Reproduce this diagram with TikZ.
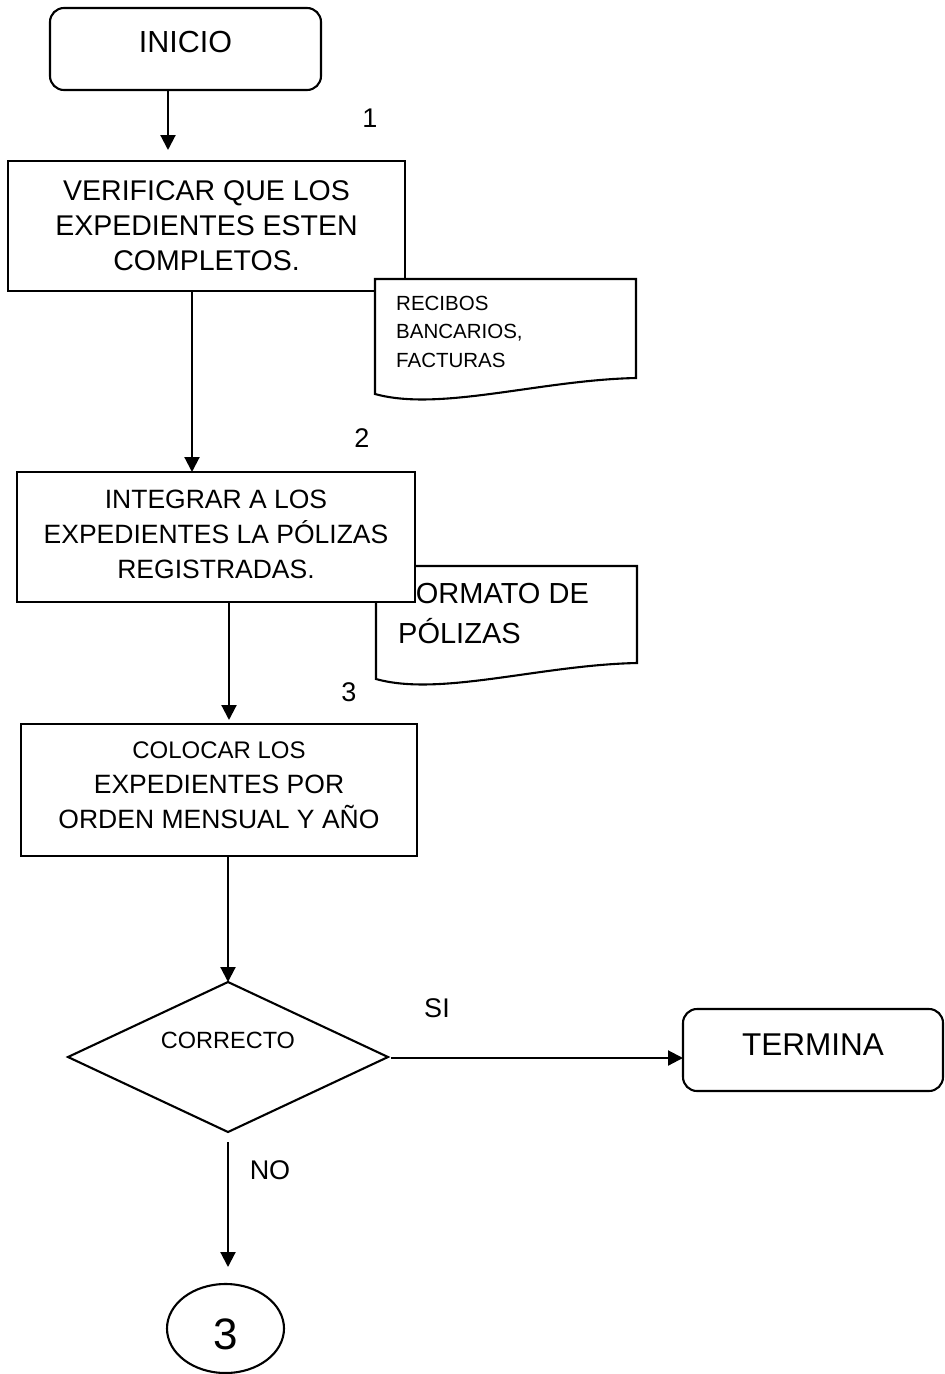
\documentclass[tikz,border=0pt]{standalone}
\usepackage{fontspec}
\setmainfont{Liberation Sans}
\usetikzlibrary{shapes.geometric,arrows.meta}
\tikzset{
  shp/.style={draw, line width=2.1pt, inner sep=0pt, outer sep=0pt, fill=white, align=center},
  procbox/.style={shp, rectangle},
  termbox/.style={shp, rectangle, rounded corners=14pt},
  arr/.style={line width=2.1pt, -{Triangle[length=15pt,width=15pt]}},
  lbl/.style={inner sep=0pt, font=\fontsize{27pt}{30pt}\selectfont},
  doctext/.style={inner sep=0pt, anchor=north west, align=left},
  docshape/.style={line width=2.1pt, fill=white},
}
\begin{document}
\begin{tikzpicture}[x=1pt,y=-1pt]
\useasboundingbox (0,0) rectangle (945,1374);

% start
\node[termbox, minimum width=271pt, minimum height=82pt,
      font=\fontsize{30.5pt}{36pt}\selectfont, text height=21.8pt, text depth=15.8pt]
      (inicio) at (185.5,49) {INICIO};

% step 1
\node[procbox, minimum width=397pt, minimum height=130pt,
      font=\fontsize{28.5pt}{35pt}\selectfont, text height=90.4pt, text depth=2.4pt]
      (box1) at (206.5,226) {VERIFICAR QUE LOS\\EXPEDIENTES ESTEN\\COMPLETOS.};

% document 1 (on top of box 1)
\draw[docshape] (375,279) -- (636,279) -- (636,378)
  .. controls (540,380) and (440,412) .. (375,394) -- cycle;
\node[doctext, font=\fontsize{20.5pt}{28.5pt}\selectfont, text height=71.7pt]
  (doc1) at (396,295.3) {RECIBOS\\BANCARIOS,\\FACTURAS};

% document 2 (under box 2)
\draw[docshape] (376,566) -- (637,566) -- (637,663)
  .. controls (540,665) and (440,697) .. (376,679) -- cycle;
\node[doctext, font=\fontsize{29pt}{40pt}\selectfont, text height=60.8pt]
  (doc2) at (398,582.2) {FORMATO DE\\PÓLIZAS};

% step 2
\node[procbox, minimum width=398pt, minimum height=130pt,
      font=\fontsize{26.5pt}{35pt}\selectfont, text height=89pt, text depth=7pt]
      (box2) at (216,537) {INTEGRAR A LOS\\EXPEDIENTES LA PÓLIZAS\\REGISTRADAS.};

% step 3
\node[procbox, minimum width=396pt, minimum height=132pt,
      font=\fontsize{26.5pt}{35pt}\selectfont, text height=87.2pt, text depth=11.2pt]
      (box3) at (219,790) {{\fontsize{24pt}{35pt}\selectfont COLOCAR LOS}\\EXPEDIENTES POR\\ORDEN MENSUAL Y AÑO};

% decision
\node[shp, diamond, aspect=2.133, minimum width=320pt, minimum height=150pt,
      font=\fontsize{23.5pt}{28pt}\selectfont, text height=16.8pt, text depth=34.8pt]
      (diam) at (228,1057) {CORRECTO};

% end
\node[termbox, minimum width=260pt, minimum height=82pt,
      font=\fontsize{31.5pt}{36pt}\selectfont, text height=22.5pt, text depth=12.5pt]
      (term) at (813,1050) {TERMINA};

% connector
\node[shp, ellipse, minimum width=117pt, minimum height=89pt,
      font=\fontsize{44pt}{50pt}\selectfont, text height=42pt, text depth=0pt]
      (ell) at (225.5,1328.5) {3};

% labels
\node[lbl] (n1) at (370,118) {1};
\node[lbl] (n2) at (362,438) {2};
\node[lbl] (n3) at (349,692) {3};
\node[lbl] (si) at (437,1008) {SI};
\node[lbl] (no) at (270,1170) {NO};

% connectors
\draw[arr] ([xshift=-17.5pt]inicio.south) -- ([xshift=-38.5pt,yshift=11pt]box1.north);
\draw[arr] ([xshift=-14.5pt]box1.south) -- ([xshift=-24pt]box2.north);
\draw[arr] ([xshift=13pt]box2.south) -- ([xshift=10pt,yshift=4pt]box3.north);
\draw[arr] ([xshift=9pt]box3.south) -- (diam.north);
\draw[arr] ([xshift=3pt,yshift=-1pt]diam.east) -- ([yshift=-1pt]diam.east -| term.west);
\draw[arr] ([yshift=-10pt]diam.south) -- ([xshift=2.5pt,yshift=17pt]ell.north);
\end{tikzpicture}
\end{document}
